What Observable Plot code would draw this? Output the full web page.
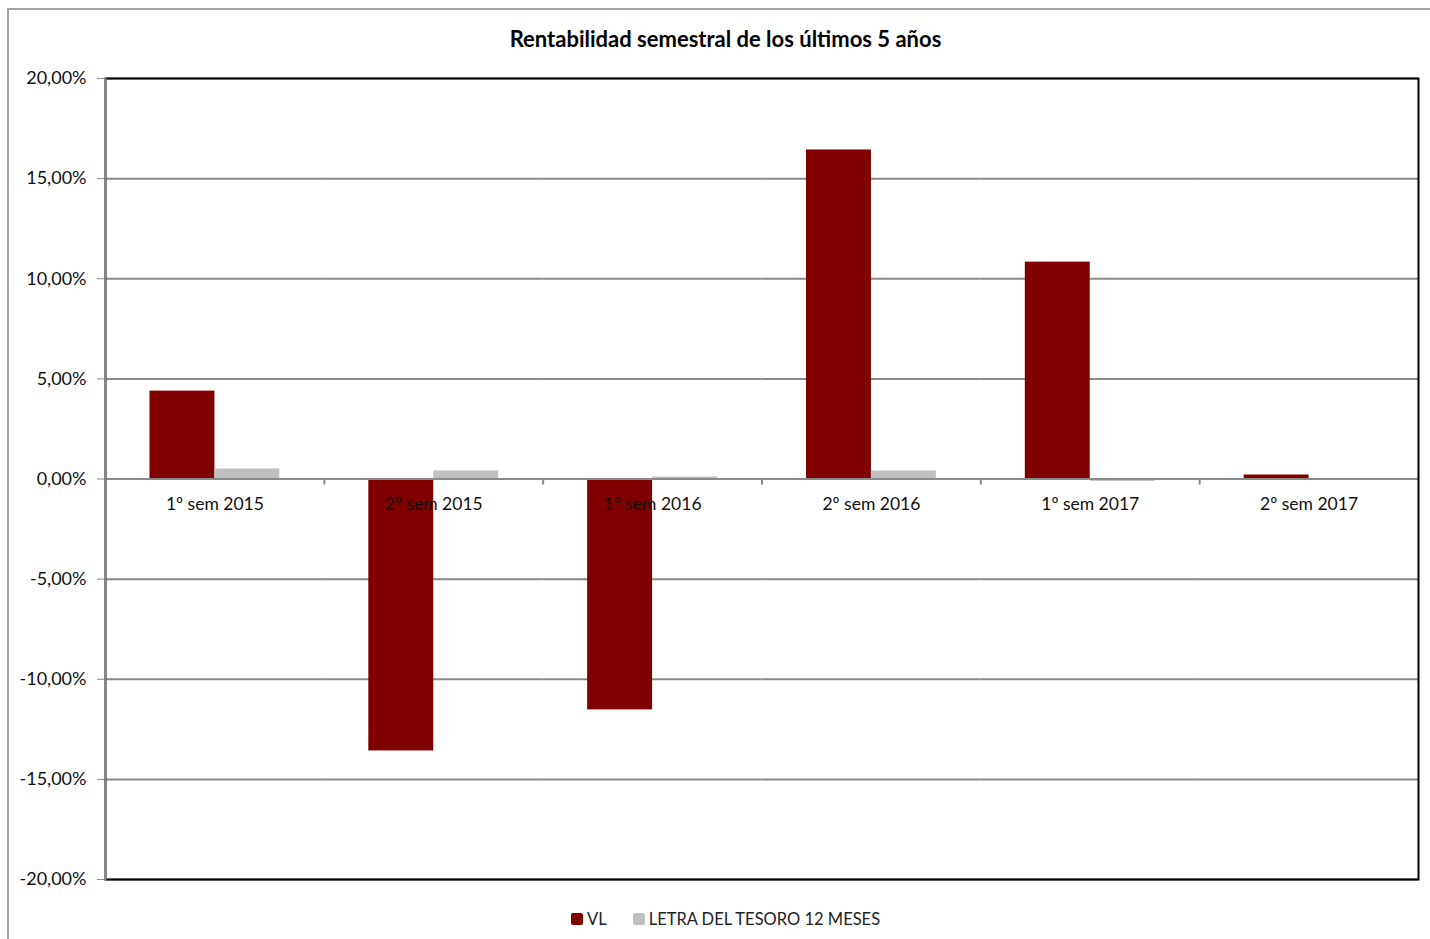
<!DOCTYPE html>
<html>
<head>
<meta charset="utf-8">
<script src="https://cdn.jsdelivr.net/npm/d3@7"></script>
<script src="https://cdn.jsdelivr.net/npm/@observablehq/plot@0.6"></script>
<style>
  html, body { margin: 0; padding: 0; background: #fff; overflow: hidden; }
  #wrap { position: relative; width: 1430px; height: 939px; font-family: Lato, "Open Sans", sans-serif; }
  #border { position: absolute; left: 7px; top: 8px; width: 1430px; height: 940px; border-left: 2px solid #a3a3a3; border-top: 2px solid #a3a3a3; }
  #title { position: absolute; top: 25px; left: 0; width: 1430px; padding-left: 21px; box-sizing: border-box; text-align: center; font-weight: bold; font-size: 22px; color: #000; }
  #chart { position: absolute; left: 0; top: 0; }
  #legend { position: absolute; left: 571px; top: 909px; display: flex; align-items: center; font-size: 16.5px; color: #222; }
  .sw { width: 12px; height: 12px; border-radius: 2px; margin-right: 4px; }
  .item { display: flex; align-items: center; margin-right: 26px; }
</style>
</head>
<body>
<div id="wrap">
  <div id="border"></div>
  <div id="chart"></div>
  <div id="title">Rentabilidad semestral de los últimos 5 años</div>
  <div id="legend"></div>
</div>
<script>
const categories = ["1º sem 2015", "2º sem 2015", "1º sem 2016", "2º sem 2016", "1º sem 2017", "2º sem 2017"];
const series = ["VL", "LETRA DEL TESORO 12 MESES"];
const vl = [0.0439, -0.1358, -0.1153, 0.1643, 0.1083, 0.0020];
const letra = [0.0050, 0.0040, 0.0010, 0.0040, -0.0012, 0.0000];
const yTicks = [-0.20, -0.15, -0.10, -0.05, 0, 0.05, 0.10, 0.15, 0.20];
const colors = ["#800000", "#c0c0c0"];

const data = categories.flatMap((c, i) => [
  {cat: c, serie: series[0], value: vl[i]},
  {cat: c, serie: series[1], value: letra[i]}
]);

const fmt = d => (d * 100).toFixed(2).replace(".", ",") + "%";

const W = 1430, ML = 105, MR = 12;
const facetStep = (W - ML - MR) / categories.length;

const chart = Plot.plot({
  width: W,
  height: 900,
  marginTop: 78,
  marginBottom: 21,
  marginLeft: ML,
  marginRight: MR,
  style: {fontFamily: "Lato, 'Open Sans', sans-serif", fontSize: "18px", color: "#000", background: "transparent", overflow: "visible"},
  fx: {domain: categories, padding: 0, round: false, axis: null},
  x: {domain: series, paddingInner: 0, paddingOuter: 0.685, round: false, axis: null},
  y: {domain: [-0.2, 0.2], axis: null},
  color: {domain: series, range: colors},
  marks: [
    Plot.ruleY(yTicks, {stroke: "#8a8a8a", strokeWidth: 2}),
    Plot.barY(data, {fx: "cat", x: "serie", y: "value", fill: "serie"}),
    Plot.ruleY([0], {stroke: "#8a8a8a", strokeWidth: 2}),
    Plot.ruleX(categories.slice(1), {fx: d => d, x: null, y1: () => 0, y2: () => -0.003, dx: -facetStep / 2, stroke: "#8a8a8a", strokeWidth: 2}),
    Plot.text(categories, {fx: d => d, y: () => 0, text: d => d, dy: 25, fill: "#111", fontSize: 17.5}),
    Plot.axisY(yTicks, {anchor: "left", label: null, tickFormat: fmt, tickSize: 8, tickPadding: 11, stroke: "#8a8a8a", fill: "#111", fontSize: 18}),
    Plot.frame({facet: "super", stroke: "#000", strokeWidth: 2}),
    Plot.frame({facet: "super", anchor: "left", stroke: "#8a8a8a", strokeWidth: 2})
  ]
});
document.getElementById("chart").appendChild(chart);

const legend = document.getElementById("legend");
series.forEach((s, i) => {
  const item = document.createElement("div");
  item.className = "item";
  const sw = document.createElement("div");
  sw.className = "sw";
  sw.style.background = colors[i];
  const t = document.createElement("span");
  t.textContent = s;
  item.appendChild(sw);
  item.appendChild(t);
  legend.appendChild(item);
});
</script>
</body>
</html>
